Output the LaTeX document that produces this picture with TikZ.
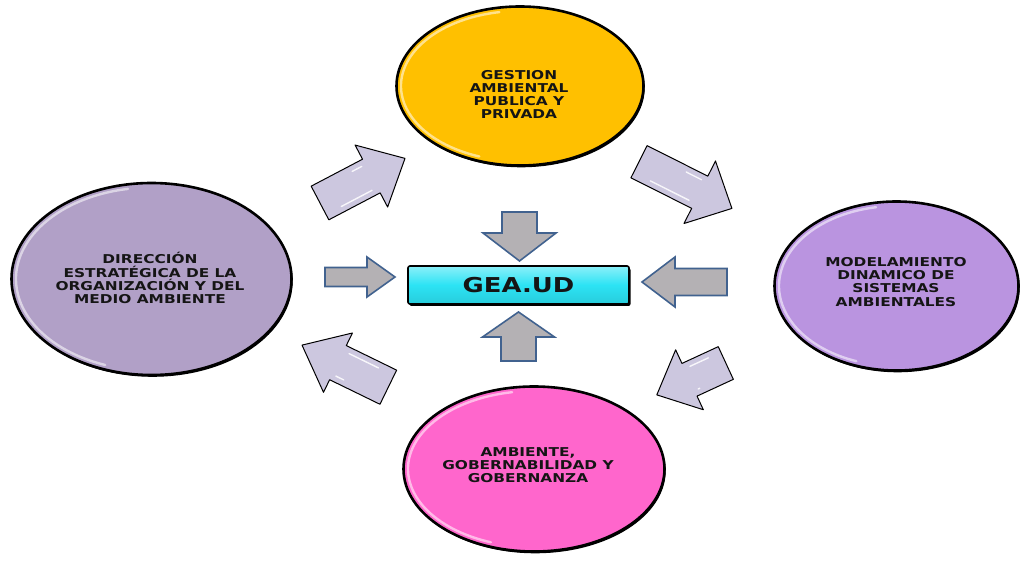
\documentclass[tikz,border=0pt]{standalone}
\usepackage{fontspec}
\newfontfamily\labfont{DejaVu Sans}[FakeStretch=1.26]
\usetikzlibrary{shapes.geometric,shadows}
\definecolor{goldY}{HTML}{FFC000}
\definecolor{lavL}{HTML}{B1A0C7}
\definecolor{purR}{HTML}{BA94E0}
\definecolor{pinkB}{HTML}{FF66CC}
\definecolor{cyanBox}{HTML}{2CE3F4}
\definecolor{greyArr}{HTML}{B4B1B4}
\definecolor{blueEdge}{HTML}{41628F}
\definecolor{lavArr}{HTML}{CCC7DF}
\definecolor{txt}{HTML}{151515}

\tikzset{
 oval/.style={ellipse, draw=black, line width=2.6pt, inner sep=0pt,
   drop shadow={shadow xshift=1.2pt, shadow yshift=-1.8pt, fill=black, opacity=1}},
 ovaltext/.style={font=\labfont\bfseries\fontsize{12.2}{13.1}\selectfont, align=center, text=txt, inner sep=0pt},
 greyarrow/.style={fill=greyArr, draw=blueEdge, line width=1.6pt, line join=miter},
 lavarrow/.style={fill=lavArr, draw=black, line width=1pt, line join=round},
 shine/.style={white, line width=1.4pt, opacity=.85, line cap=round},
 boxstyle/.style={draw=black, line width=1.6pt, rounded corners=2pt,
   top color=cyanBox!55!white, bottom color=cyanBox!90!black, middle color=cyanBox,
   drop shadow={shadow xshift=1.5pt, shadow yshift=-2pt, fill=black, opacity=1},
   font=\labfont\bfseries\fontsize{20.5}{22}\selectfont, text=txt},
}

% tail-centre x, y, angle, length, shaft width, head width, head length, style
\newcommand\blockarr[8]{%
 \begin{scope}[shift={(#1,#2)},rotate=#3]
  \draw[#8] (0,-#5/2) -- (#4-#7,-#5/2) -- (#4-#7,-#6/2) -- (#4,0)
     -- (#4-#7,#6/2) -- (#4-#7,#5/2) -- (0,#5/2) -- cycle;
 \end{scope}}
\newcommand\lavarr[7]{%
 \blockarr{#1}{#2}{#3}{#4}{#5}{#6}{#7}{lavarrow}
 \begin{scope}[shift={(#1,#2)},rotate=#3]
  \draw[shine] (0.18*#4,#5/2-6) -- (#4-#7-6,#5/2-6);
  \draw[shine] (0.45*#4,-#5/2+6) -- (#4-#7-4,-#5/2+6);
 \end{scope}}
\newcommand\gloss[4]{%
 \draw[shine, line width=2.4pt, opacity=.55] (#1,#2) ++(-100:#3-4.5 and #4-4.5)
   arc[start angle=-100, end angle=-250, x radius=#3-4.5, y radius=#4-4.5];}

\begin{document}
\begin{tikzpicture}[x=1pt,y=-1pt]
\useasboundingbox (0,0) rectangle (1021,561);

% ellipses
\node[oval, fill=goldY, minimum width=247pt, minimum height=159pt] (gest) at (520,86) {};
\node[oval, fill=lavL, minimum width=280pt, minimum height=192pt] (dir) at (151.5,279) {};
\node[oval, fill=purR, minimum width=244pt, minimum height=169pt] (mod) at (896.5,286) {};
\node[oval, fill=pinkB, minimum width=261pt, minimum height=165pt] (amb) at (534,469) {};
\gloss{520}{86}{123.5}{79.5}
\gloss{151.5}{279}{140}{96}
\gloss{896.5}{286}{122}{84.5}
\gloss{534}{469}{130.5}{82.5}

\node[ovaltext] (gestT) at (519,94.5) {GESTION\\AMBIENTAL\\PUBLICA Y\\PRIVADA};
\node[ovaltext] (dirT) at (150,278) {DIRECCIÓN\\ESTRATÉGICA DE LA\\ORGANIZACIÓN Y DEL\\MEDIO AMBIENTE};
\node[ovaltext] (modT) at (896,282) {MODELAMIENTO\\DINAMICO DE\\SISTEMAS\\AMBIENTALES};
\node[ovaltext] (ambT) at (528,465) {AMBIENTE,\\GOBERNABILIDAD Y\\GOBERNANZA};

% central box
\node[boxstyle, minimum width=221pt, minimum height=38pt] (gea) at (518.5,285) {GEA.UD};

% grey arrows towards the box
\blockarr{519.5}{212}{-90}{49}{35}{73}{28}{greyarrow}
\blockarr{518.5}{361}{90}{49}{35}{72}{25}{greyarrow}
\blockarr{325}{277}{0}{70}{19}{40}{28}{greyarrow}
\blockarr{727}{282}{180}{85}{27}{50}{33}{greyarrow}

% lavender cycle arrows
\lavarr{320}{203}{27.7}{96}{38}{70}{38}
\lavarr{639}{161.7}{-26.7}{104}{36}{70}{36}
\lavarr{725.8}{363}{204.8}{76}{36}{66}{36}
\lavarr{388.3}{387.2}{154}{96}{38}{66}{40}
\end{tikzpicture}
\end{document}
